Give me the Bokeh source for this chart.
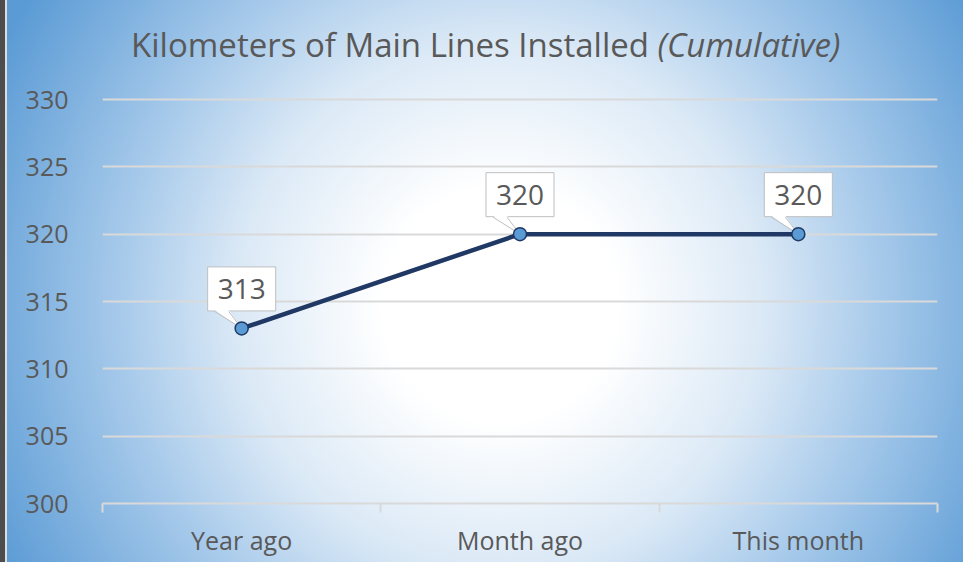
from bokeh.plotting import figure
from bokeh.models import Range1d, FixedTicker, Label
from bokeh.embed import file_html
from bokeh.resources import INLINE

# ---- data ----
categories = ["Year ago", "Month ago", "This month"]
values = [313, 320, 320]
y_ticks = [300, 305, 310, 315, 320, 325, 330]
title_main = "Kilometers of Main Lines Installed "
title_italic = "(Cumulative)"

# ---- geometry / style ----
W, H = 963, 562
ML, MR, MT, MB = 102, 26, 10, 59
GRID_TOP = 99           # pixel row of the top tick (330)
FW = W - ML - MR
PLOT_H = H - GRID_TOP - MB   # pixels between 300 and 330
TXT = "#595959"
GRID = "#d9d9d9"
FONT = "Open Sans"

xs = list(range(len(categories)))
x0, x1 = -0.5, len(categories) - 0.5
y0 = y_ticks[0]
ux = (x1 - x0) / FW
uy = (y_ticks[-1] - y_ticks[0]) / PLOT_H
y1 = y_ticks[-1] + (GRID_TOP - MT) * uy

p = figure(width=W, height=H, output_backend="svg", toolbar_location=None,
           x_range=Range1d(x0, x1), y_range=Range1d(y0, y1),
           min_border_left=ML, min_border_right=MR, min_border_top=MT, min_border_bottom=MB)
p.border_fill_color = None
p.background_fill_color = None
p.outline_line_color = None
p.styles = {
    "background-image": (
        "linear-gradient(to right, #4d4d4d 0px, #4d4d4d 5px, #dcdcdc 5px, #dcdcdc 7px, transparent 7px),"
        "radial-gradient(circle 560px at 500px 305px, #ffffff 0%, #ffffff 21%, #dbe9f6 47%, #a9cbeb 67%, #5b9bd5 100%)"
    )
}

# axes
xa = p.xaxis[0]
xa.ticker = FixedTicker(ticks=xs, minor_ticks=[i - 0.5 for i in range(len(categories) + 1)])
xa.major_label_overrides = {i: c for i, c in enumerate(categories)}
xa.major_tick_line_color = None
xa.major_tick_out = 0
xa.major_tick_in = 0
xa.minor_tick_out = 9
xa.minor_tick_in = 0
xa.minor_tick_line_color = GRID
xa.minor_tick_line_width = 2
xa.axis_line_color = GRID
xa.axis_line_width = 2
xa.major_label_text_font = FONT
xa.major_label_text_font_size = "25px"
xa.major_label_text_color = TXT
xa.major_label_standoff = 10

ya = p.yaxis[0]
ya.ticker = FixedTicker(ticks=y_ticks)
ya.axis_line_color = None
ya.major_tick_line_color = None
ya.minor_tick_line_color = None
ya.major_tick_out = 0
ya.major_tick_in = 0
ya.major_label_text_font = FONT
ya.major_label_text_font_size = "25px"
ya.major_label_text_color = TXT
ya.major_label_standoff = 34

p.xgrid.grid_line_color = None
p.ygrid.grid_line_color = GRID
p.ygrid.grid_line_width = 2
p.ygrid.ticker = FixedTicker(ticks=y_ticks)

# line
p.line(xs, values, line_color="#203864", line_width=4.5)

# callouts
tail_xs, tail_ys, side_xs, side_ys = [], [], [], []
for x, v in zip(xs, values):
    p.add_layout(Label(x=x, y=v, y_offset=39.5, text=str(v), text_align="center",
                       text_baseline="middle", text_font=FONT, text_font_size="28px",
                       text_color=TXT, background_fill_color="white",
                       border_line_color="#bfbfbf", border_line_width=1,
                       padding=dict(left=10, right=10, top=12, bottom=12)))
    tail_xs.append([x - 27 * ux, x - 13 * ux, x])
    tail_ys.append([v + 18.5 * uy, v + 18.5 * uy, v])
    side_xs += [[x - 27 * ux, x], [x - 13 * ux, x]]
    side_ys += [[v + 17 * uy, v], [v + 17 * uy, v]]

p.patches(tail_xs, tail_ys, fill_color="white", line_color=None, level="overlay")
p.multi_line(side_xs, side_ys, line_color="#bfbfbf", line_width=1, level="overlay")
p.scatter(xs, values, size=13, fill_color="#5b9bd5", line_color="#203864",
          line_width=1.5, level="overlay")

# title
ty = y_ticks[-1] + 55 * uy
split_x = x0 + (665 - 110) * ux
p.add_layout(Label(x=split_x, y=ty, text=title_main, text_align="right", text_baseline="middle",
                   text_font=FONT, text_font_size="33px", text_color=TXT))
p.add_layout(Label(x=split_x, y=ty, text=title_italic, text_align="left", text_baseline="middle",
                   text_font=FONT, text_font_size="33px", text_font_style="italic", text_color=TXT))

open("out.html", "w").write(file_html(p, INLINE))
